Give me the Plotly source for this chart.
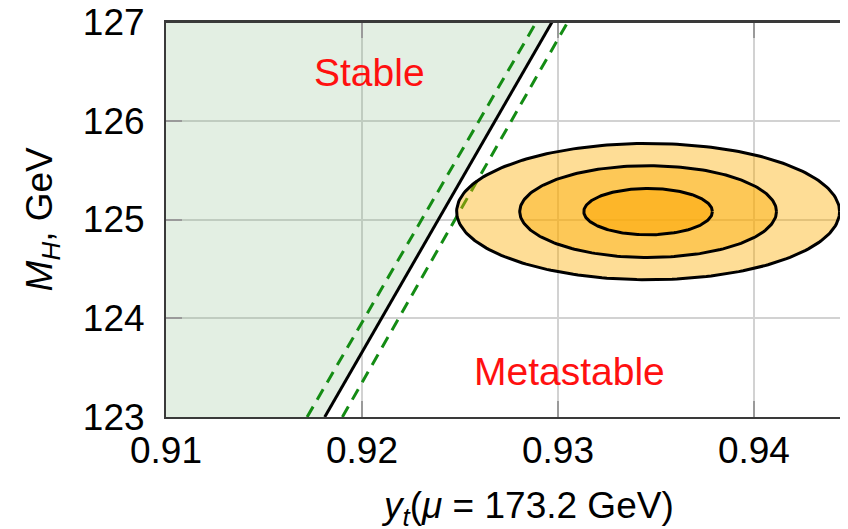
import numpy as np
import plotly.graph_objects as go

# ---- data ----
x_ticks = [0.91, 0.92, 0.93, 0.94]
y_ticks = [123, 124, 125, 126, 127]
x_range = [0.91, 0.9448]
y_range = [123, 127]

# stability boundary (central) and its uncertainty band, endpoints at MH = 123 and 127
boundary_mh = [123, 127]
boundary_yt = [0.9181, 0.9297]
band_low_yt = [0.9172, 0.9289]
band_high_yt = [0.9190, 0.9305]

# measured point and 1/2/3 sigma ellipse half-widths
center_yt = 0.9346
center_mh = 125.08
sigma_yt = [0.00328, 0.00655, 0.00977]
sigma_mh = [0.235, 0.465, 0.69]
ellipse_colors = ["rgba(253,170,10,0.6)", "rgba(252,172,0,0.42)", "rgba(252,172,0,0.41)"]

labels = ["Stable", "Metastable"]
label_x = [0.9204, 0.9306]
label_y = [126.49, 123.46]

FONT = "Liberation Sans, Arial, Helvetica, sans-serif"

fig = go.Figure()

# stable region (left of boundary)
fig.add_trace(go.Scatter(
    x=[x_range[0], boundary_yt[0], boundary_yt[1], x_range[0]],
    y=[boundary_mh[0], boundary_mh[0], boundary_mh[1], boundary_mh[1]],
    fill="toself", fillcolor="rgba(140,190,140,0.24)", line=dict(width=0),
    mode="lines", hoverinfo="skip", showlegend=False))

# dashed band
for xs in (band_low_yt, band_high_yt):
    fig.add_trace(go.Scatter(x=xs, y=boundary_mh, mode="lines",
                             line=dict(color="rgb(20,140,20)", width=3, dash="12px,8px"),
                             showlegend=False, hoverinfo="skip"))

# central boundary
fig.add_trace(go.Scatter(x=boundary_yt, y=boundary_mh, mode="lines",
                         line=dict(color="black", width=3),
                         showlegend=False, hoverinfo="skip"))

# ellipses, outermost first
t = np.linspace(0, 2 * np.pi, 240)
for sx, sy, col in reversed(list(zip(sigma_yt, sigma_mh, ellipse_colors))):
    fig.add_trace(go.Scatter(
        x=center_yt + sx * np.cos(t), y=center_mh + sy * np.sin(t),
        mode="lines", fill="toself", fillcolor=col,
        line=dict(color="black", width=3),
        showlegend=False, hoverinfo="skip"))

for txt, lx, ly in zip(labels, label_x, label_y):
    fig.add_annotation(x=lx, y=ly, text=txt, showarrow=False,
                       font=dict(family=FONT, size=39, color="#ff1010"))

axis_common = dict(
    showgrid=True, gridcolor="#d2d2d2", gridwidth=1.5,
    showline=True, linecolor="#3a3a3a", linewidth=2,
    ticks="inside", ticklen=16, tickcolor="#9a9a9a", tickwidth=1.5,
    zeroline=False, ticklabeloverflow="allow", automargin=False,
    tickfont=dict(family=FONT, size=37, color="black"),
)

fig.update_xaxes(range=x_range, tickvals=x_ticks,
                 ticktext=[f"{v:.2f}" for v in x_ticks],
                 mirror="ticks", ticklabelstandoff=0, **axis_common)
fig.update_yaxes(range=y_range, tickvals=y_ticks,
                 ticktext=[str(v) for v in y_ticks],
                 ticklabelstandoff=12, **axis_common)

# top frame line
fig.add_shape(type="line", xref="paper", yref="paper", x0=0, x1=1, y0=1, y1=1,
              line=dict(color="#3a3a3a", width=2), layer="above")

# axis titles as annotations for exact placement
fig.add_annotation(xref="paper", yref="paper", x=0.53, y=-0.23, yanchor="middle",
                   text="<i>y</i><sub><i>t</i></sub>(<i>μ</i> = 173.2 GeV)",
                   showarrow=False, font=dict(family=FONT, size=37, color="black"))
fig.add_annotation(xref="paper", yref="paper", x=-0.182, y=0.5, xanchor="center",
                   textangle=-90,
                   text="<i>M</i><sub><i>H</i></sub>, GeV",
                   showarrow=False, font=dict(family=FONT, size=37, color="black"))

# page body has an 8px margin, so the figure is drawn 8px smaller to fit the window
fig.update_layout(
    width=840, height=521,
    margin=dict(l=158, r=0, t=14, b=112, autoexpand=False),
    plot_bgcolor="white", paper_bgcolor="white",
    font=dict(family=FONT),
)

fig.write_html("out.html")
